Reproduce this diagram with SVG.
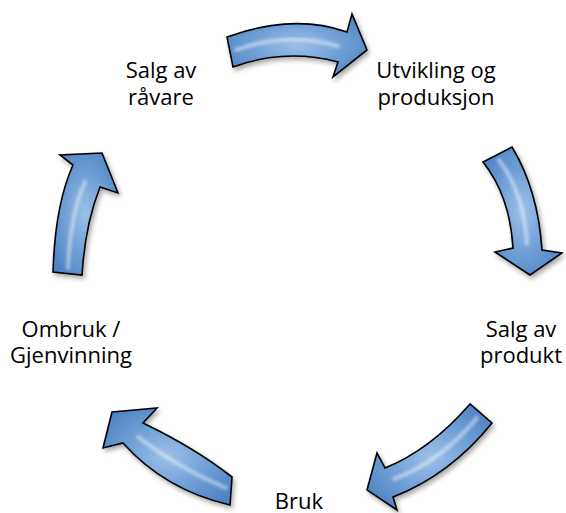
<svg xmlns="http://www.w3.org/2000/svg" width="566" height="513" viewBox="0 0 566 513">
  <style>
    .lbl { font-family: "Open Sans", "Liberation Sans", sans-serif; font-size: 22px; fill: #000; text-anchor: middle; }
    .arrow { fill: url(#blue); stroke: #000; stroke-width: 1.6; stroke-linejoin: miter; filter: url(#shadow); }
    .shine { fill: none; stroke: #ffffff; stroke-width: 4; stroke-opacity: 0.45; stroke-linecap: round; filter: url(#soft); }
  </style>
  <defs>
    <radialGradient id="blue" cx="0.5" cy="0.5" r="0.6">
      <stop offset="0" stop-color="#9cc0e8"/>
      <stop offset="0.55" stop-color="#6f9fd6"/>
      <stop offset="1" stop-color="#4f84c4"/>
    </radialGradient>
    <filter id="shadow" x="-20%" y="-20%" width="150%" height="150%">
      <feGaussianBlur in="SourceAlpha" stdDeviation="2.5"/>
      <feOffset dx="2" dy="3" result="b"/>
      <feComponentTransfer><feFuncA type="linear" slope="0.35"/></feComponentTransfer>
      <feMerge><feMergeNode/><feMergeNode in="SourceGraphic"/></feMerge>
    </filter>
    <filter id="soft" x="-20%" y="-20%" width="140%" height="140%">
      <feGaussianBlur stdDeviation="1.5"/>
    </filter>
  </defs>

  <g id="connectors">
    <g id="arrow-top">
      <path class="arrow" d="M227,37 Q293,13 347,32 L352,14 L367,50 L333,77 L338,62 Q285,48 233,67 Z"/>
      <path class="shine" d="M236,50 Q289,31 338,46"/>
    </g>
    <g id="arrow-right">
      <path class="arrow" d="M512,147 Q538,190 542,250 L562,253 L530,275 L495,252 L513,248 Q510,196 483,162 Z"/>
      <path class="shine" d="M499,160 Q524,193 527,244"/>
    </g>
    <g id="arrow-bottom-right">
      <path class="arrow" d="M470,404 Q430,450 385,468 L377,453 L367,490 L397,510 L393,497 Q450,475 492,423 Z"/>
      <path class="shine" d="M477,418 Q440,462 394,479"/>
    </g>
    <g id="arrow-bottom-left">
      <path class="arrow" d="M112,412 L157,408 L143,423 Q195,448 232,477 L230,505 Q165,490 123,443 L103,448 Z"/>
      <path class="shine" d="M226,488 Q180,469 138,437"/>
    </g>
    <g id="arrow-left">
      <path class="arrow" d="M53,272 Q55,205 73,165 L60,155 L102,153 L118,193 L100,187 Q85,225 82,275 Z"/>
      <path class="shine" d="M68,268 Q70,215 85,182"/>
    </g>
  </g>

  <g id="node-salg-ravare">
    <text class="lbl" x="161" y="78">Salg av</text>
    <text class="lbl" x="161" y="105">råvare</text>
  </g>
  <g id="node-utvikling">
    <text class="lbl" x="436" y="78">Utvikling og</text>
    <text class="lbl" x="436" y="105">produksjon</text>
  </g>
  <g id="node-salg-produkt">
    <text class="lbl" x="521" y="337">Salg av</text>
    <text class="lbl" x="521" y="363">produkt</text>
  </g>
  <g id="node-bruk">
    <text class="lbl" x="299" y="509">Bruk</text>
  </g>
  <g id="node-ombruk">
    <text class="lbl" x="71" y="337">Ombruk /</text>
    <text class="lbl" x="71" y="363">Gjenvinning</text>
  </g>
</svg>
